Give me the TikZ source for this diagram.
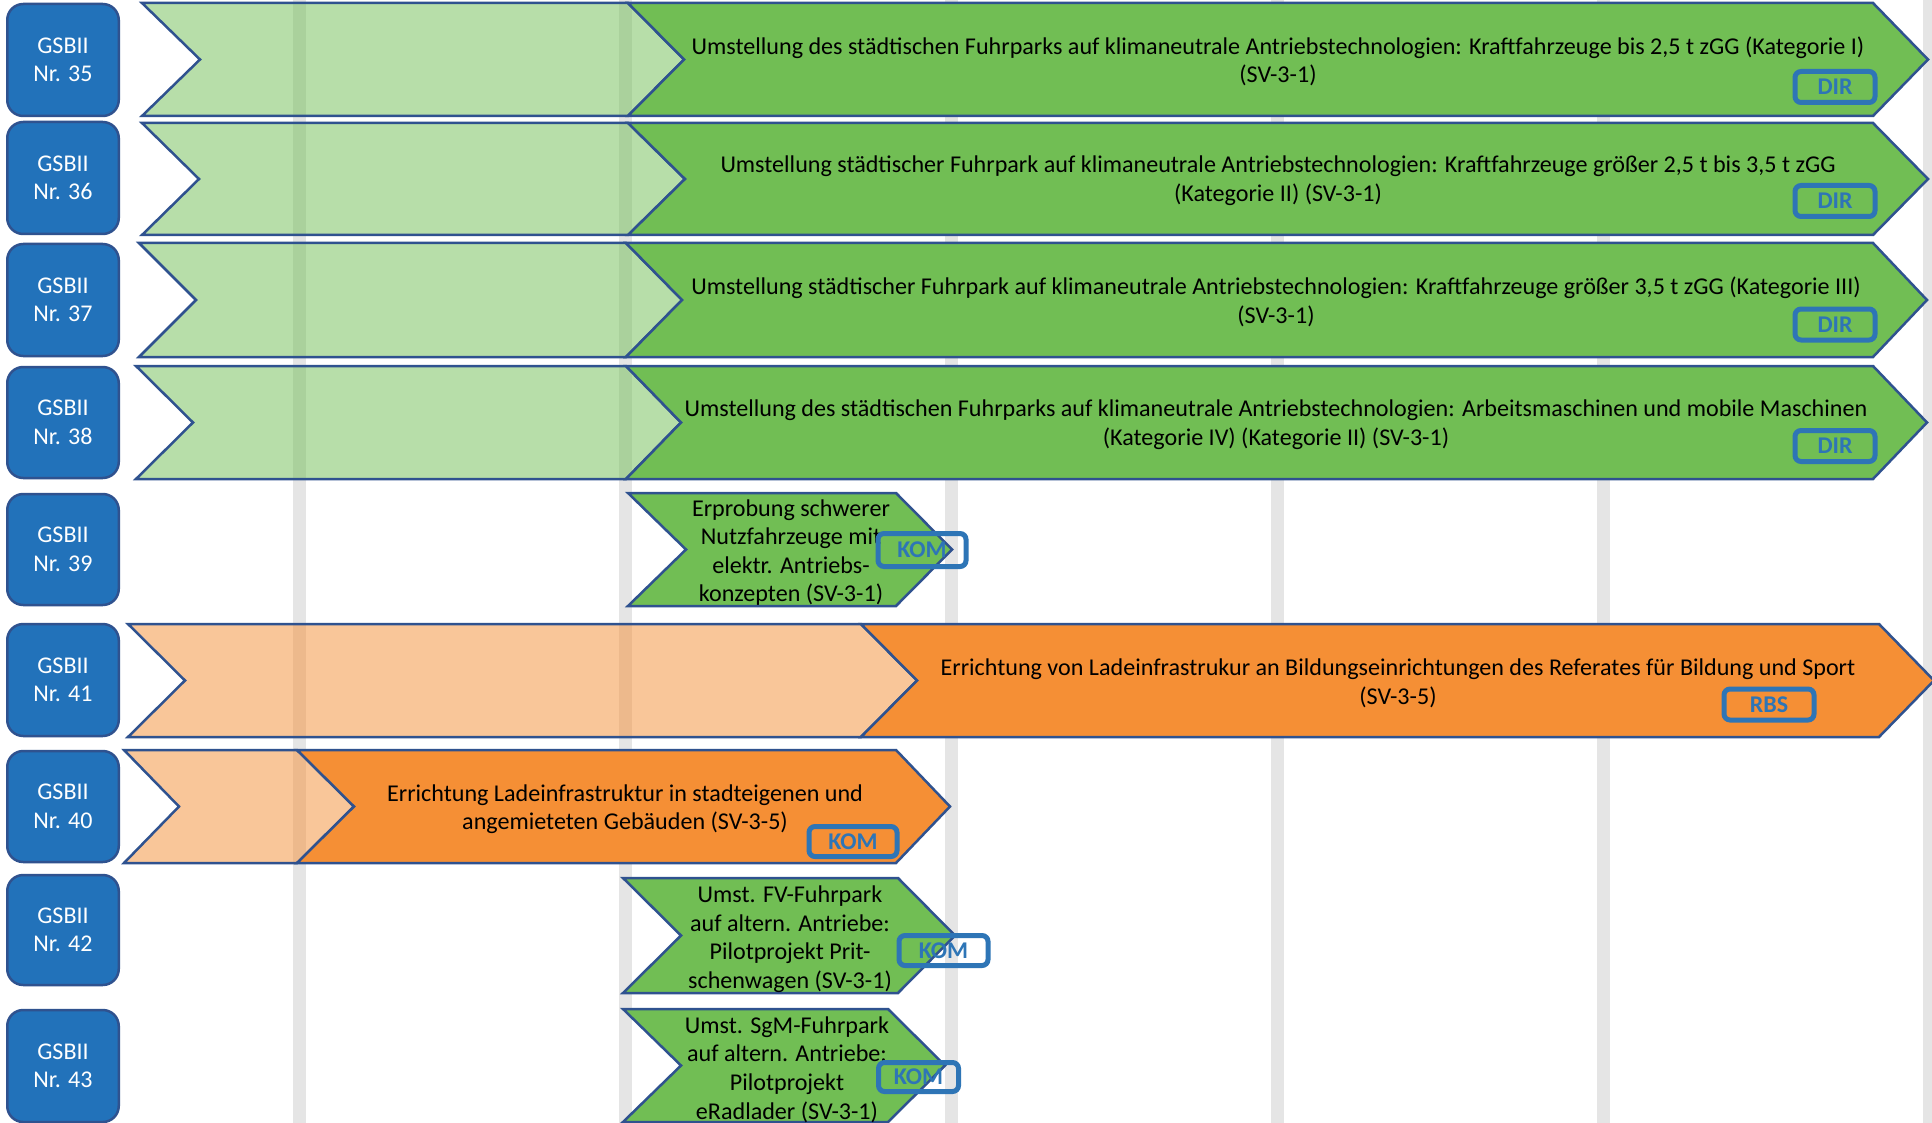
\documentclass[tikz,border=0pt]{standalone}
\usepackage{fontspec}
\setmainfont{Carlito}
\usepackage{tikz}
\usetikzlibrary{positioning}

\definecolor{gsbblue}{HTML}{2272BA}
\definecolor{edgeblue}{HTML}{2F528F}
\definecolor{tagblue}{HTML}{2E75B6}
\definecolor{grn}{HTML}{71BE54}
\definecolor{org}{HTML}{F58F35}
\definecolor{gridgray}{HTML}{E5E5E5}

\begin{document}
\begin{tikzpicture}[x=1pt,y=-1pt]
\tikzstyle{every node}+=[inner sep=0pt]
\tikzstyle{gsb}=[draw=edgeblue, line width=2.5pt, fill=gsbblue, rounded corners=16pt, minimum width=111.5pt, text=white, align=center, font=\fontsize{24}{28.5}\selectfont]
\tikzstyle{dark}=[draw=edgeblue, line width=2.5pt]
\tikzstyle{light}=[draw=edgeblue, line width=2.5pt, fill opacity=0.5]
\tikzstyle{txt}=[align=center, yshift=-2pt, font=\fontsize{24.1}{28.6}\selectfont]
\tikzstyle{tag}=[draw=tagblue, line width=5pt, rounded corners=6pt, text=tagblue, font=\fontsize{24}{26}\selectfont\bfseries]
\clip (0,0) rectangle (1932,1123);
\fill [white] (0,0) rectangle (1932,1123);
\foreach \x in {299,625,951,1277,1603,1929}
  \fill [gridgray] (\x-6.5,0) rectangle (\x+6.5,1123);

\node [gsb, minimum height=112pt] (g35) at (63,60) {GSBII\\Nr. 35};
\node [gsb, minimum height=112pt] (g36) at (63,178) {GSBII\\Nr. 36};
\node [gsb, minimum height=112pt] (g37) at (63,300) {GSBII\\Nr. 37};
\node [gsb, minimum height=111pt] (g38) at (63,422.5) {GSBII\\Nr. 38};
\node [gsb, minimum height=111pt] (g39) at (63,549.5) {GSBII\\Nr. 39};
\node [gsb, minimum height=112pt] (g41) at (63,680) {GSBII\\Nr. 41};
\node [gsb, minimum height=111pt] (g40) at (63,806.5) {GSBII\\Nr. 40};
\node [gsb, minimum height=110pt] (g42) at (63,930) {GSBII\\Nr. 42};
\node [gsb, minimum height=112pt] (g43) at (63,1066) {GSBII\\Nr. 43};

\filldraw [light, fill=grn] (142,3) -- (628,3) -- (684,59.5) -- (628,116) -- (142,116) -- (200,59.5) -- cycle;
\filldraw [dark, fill=grn] (628,3) -- (1873,3) -- (1928,59.5) -- (1873,116) -- (628,116) -- (684,59.5) -- cycle;
\node [txt] (m35) at (1278,59.5) {Umstellung des städtischen Fuhrparks auf klimaneutrale Antriebstechnologien: Kraftfahrzeuge bis 2,5 t zGG (Kategorie I)\\(SV-3-1)};
\node [tag, minimum width=80pt, minimum height=31pt] (t35) at (1835,87) {DIR};

\filldraw [light, fill=grn] (142,123) -- (628,123) -- (685,179) -- (628,235) -- (142,235) -- (199,179) -- cycle;
\filldraw [dark, fill=grn] (628,123) -- (1873,123) -- (1928,179) -- (1873,235) -- (628,235) -- (685,179) -- cycle;
\node [txt] (m36) at (1278,179) {Umstellung städtischer Fuhrpark auf klimaneutrale Antriebstechnologien: Kraftfahrzeuge größer 2,5 t bis 3,5 t zGG\\(Kategorie II) (SV-3-1)};
\node [tag, minimum width=80pt, minimum height=31pt] (t36) at (1835,201) {DIR};

\filldraw [light, fill=grn] (139,243) -- (626,243) -- (682,300) -- (626,357) -- (139,357) -- (196,300) -- cycle;
\filldraw [dark, fill=grn] (626,243) -- (1873,243) -- (1927,300) -- (1873,357) -- (626,357) -- (682,300) -- cycle;
\node [txt] (m37) at (1276,300) {Umstellung städtischer Fuhrpark auf klimaneutrale Antriebstechnologien: Kraftfahrzeuge größer 3,5 t zGG (Kategorie III)\\(SV-3-1)};
\node [tag, minimum width=80pt, minimum height=31pt] (t37) at (1835,324.5) {DIR};

\filldraw [light, fill=grn] (136,366) -- (626,366) -- (681,422.5) -- (626,479) -- (136,479) -- (193,422.5) -- cycle;
\filldraw [dark, fill=grn] (626,366) -- (1873,366) -- (1927,422.5) -- (1873,479) -- (626,479) -- (681,422.5) -- cycle;
\node [txt] (m38) at (1276,422.5) {Umstellung des städtischen Fuhrparks auf klimaneutrale Antriebstechnologien: Arbeitsmaschinen und mobile Maschinen\\(Kategorie IV) (Kategorie II) (SV-3-1)};
\node [tag, minimum width=80pt, minimum height=31pt] (t38) at (1835,446) {DIR};

\filldraw [dark, fill=grn] (628,493) -- (896,493) -- (952,549.5) -- (896,606) -- (628,606) -- (686,549.5) -- cycle;
\node [txt] (m39) at (791,550.5) {Erprobung schwerer\\Nutzfahrzeuge mit\\elektr. Antriebs-\\konzepten (SV-3-1)};
\node [tag, minimum width=88pt, minimum height=33pt] (t39) at (922,550) {KOM};

\filldraw [light, fill=org] (128,624) -- (861,624) -- (917,680.5) -- (861,737) -- (128,737) -- (185,680.5) -- cycle;
\filldraw [dark, fill=org] (861,624) -- (1879,624) -- (1934,680.5) -- (1879,737) -- (861,737) -- (917,680.5) -- cycle;
\node [txt] (m41) at (1398,681) {Errichtung von Ladeinfrastrukur an Bildungseinrichtungen des Referates für Bildung und Sport\\(SV-3-5)};
\node [tag, minimum width=90pt, minimum height=31pt] (t41) at (1769,704.5) {RBS};

\filldraw [light, fill=org] (124,750) -- (297,750) -- (354,806.5) -- (297,863) -- (124,863) -- (179,806.5) -- cycle;
\filldraw [dark, fill=org] (297,750) -- (896,750) -- (950,806.5) -- (896,863) -- (297,863) -- (354,806.5) -- cycle;
\node [txt] (m40) at (625,807) {Errichtung Ladeinfrastruktur in stadteigenen und\\angemieteten Gebäuden (SV-3-5)};
\node [tag, minimum width=88pt, minimum height=30pt] (t40) at (853,841.5) {KOM};

\filldraw [dark, fill=grn] (623,878) -- (898,878) -- (955,935.5) -- (898,993) -- (623,993) -- (681,935.5) -- cycle;
\node [txt] (m42) at (790,937) {Umst. FV-Fuhrpark\\auf altern. Antriebe:\\Pilotprojekt Prit-\\schenwagen (SV-3-1)};
\node [tag, minimum width=89pt, minimum height=30pt] (t42) at (943.5,950.5) {KOM};

\filldraw [dark, fill=grn] (623,1009) -- (888,1009) -- (945,1065.5) -- (888,1122) -- (623,1122) -- (681,1065.5) -- cycle;
\node [txt] (m43) at (787,1067.5) {Umst. SgM-Fuhrpark\\auf altern. Antriebe:\\Pilotprojekt\\eRadlader (SV-3-1)};
\node [tag, minimum width=80pt, minimum height=29pt] (t43) at (918.5,1077) {KOM};
\end{tikzpicture}
\end{document}
